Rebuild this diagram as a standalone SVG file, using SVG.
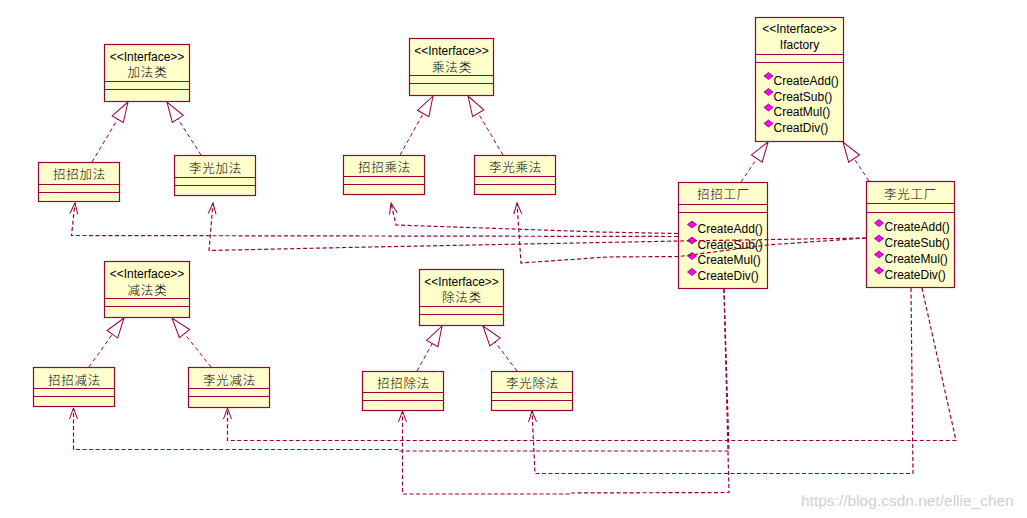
<svg xmlns="http://www.w3.org/2000/svg" width="1027" height="518" viewBox="0 0 1027 518">
<style>
.box{fill:#ffffcc;stroke:#990033;stroke-width:1.2}
.ln{stroke:#990033;stroke-width:1.2}
.t{font-family:"Liberation Sans","Noto Sans CJK SC",sans-serif;font-size:12px;fill:#000}
.cn{font-family:"Noto Sans CJK SC",sans-serif;font-size:12.5px;font-weight:300;letter-spacing:0.8px;fill:#000}
.c{text-anchor:middle}
.gen{fill:none;stroke:#990033;stroke-width:1;stroke-dasharray:4 3;marker-end:url(#tri)}
.dep{fill:none;stroke:#990033;stroke-width:1.2;stroke-dasharray:4 2.5;marker-end:url(#arr)}
.wm{font-family:"Liberation Sans",sans-serif;font-size:15.5px;fill:#cfcfcf}
</style>
<defs>
<marker id="tri" viewBox="0 0 22 16" refX="21" refY="8" markerWidth="22" markerHeight="16" markerUnits="userSpaceOnUse" orient="auto">
<path d="M21,8 L1,1.5 L1,14.5 Z" fill="#ffffff" stroke="#990033" stroke-width="1"/>
</marker>
<marker id="arr" viewBox="0 0 13 10" refX="12" refY="5" markerWidth="13" markerHeight="10" markerUnits="userSpaceOnUse" orient="auto">
<path d="M1,1 L12,5 L1,9" fill="none" stroke="#990033" stroke-width="1"/>
</marker>
<path id="dm" d="M-4.5,0 L0,-3.5 L4.5,0 L0,3.5 Z" fill="#ff00ff" stroke="#800060" stroke-width="0.8"/>
</defs>
<rect width="1027" height="518" fill="#ffffff"/>

<g id="add_iface">
<rect class="box" x="104.5" y="44.5" width="85" height="57"/>
<line class="ln" x1="104.5" y1="81.5" x2="189.5" y2="81.5"/>
<line class="ln" x1="104.5" y1="89.5" x2="189.5" y2="89.5"/>
<text class="t c" x="147" y="61">&lt;&lt;Interface&gt;&gt;</text>
<text class="cn c" x="147.5" y="77">加法类</text>
</g>
<g id="zz_add">
<rect class="box" x="38.5" y="162.5" width="81" height="39"/>
<line class="ln" x1="38.5" y1="184.5" x2="119.5" y2="184.5"/>
<line class="ln" x1="38.5" y1="192.5" x2="119.5" y2="192.5"/>
<text class="cn c" x="79.5" y="179">招招加法</text>
</g>
<g id="lg_add">
<rect class="box" x="174.5" y="155.5" width="81" height="40"/>
<line class="ln" x1="174.5" y1="177.5" x2="255.5" y2="177.5"/>
<line class="ln" x1="174.5" y1="185.5" x2="255.5" y2="185.5"/>
<text class="cn c" x="215.5" y="173">李光加法</text>
</g>
<g id="mul_iface">
<rect class="box" x="409.5" y="38.5" width="84" height="57"/>
<line class="ln" x1="409.5" y1="75.5" x2="493.5" y2="75.5"/>
<line class="ln" x1="409.5" y1="83.5" x2="493.5" y2="83.5"/>
<text class="t c" x="451.5" y="55">&lt;&lt;Interface&gt;&gt;</text>
<text class="cn c" x="452" y="71.5">乘法类</text>
</g>
<g id="zz_mul">
<rect class="box" x="343.5" y="155.5" width="81" height="39"/>
<line class="ln" x1="343.5" y1="176.5" x2="424.5" y2="176.5"/>
<line class="ln" x1="343.5" y1="184.5" x2="424.5" y2="184.5"/>
<text class="cn c" x="384.5" y="171.5">招招乘法</text>
</g>
<g id="lg_mul">
<rect class="box" x="474.5" y="155.5" width="81" height="39"/>
<line class="ln" x1="474.5" y1="176.5" x2="555.5" y2="176.5"/>
<line class="ln" x1="474.5" y1="184.5" x2="555.5" y2="184.5"/>
<text class="cn c" x="515.5" y="171.5">李光乘法</text>
</g>
<g id="ifactory">
<rect class="box" x="755.5" y="17.5" width="88" height="124"/>
<line class="ln" x1="755.5" y1="54.5" x2="843.5" y2="54.5"/>
<line class="ln" x1="755.5" y1="62.5" x2="843.5" y2="62.5"/>
<text class="t c" x="799.5" y="33">&lt;&lt;Interface&gt;&gt;</text>
<text class="t c" x="799.5" y="48.5">Ifactory</text>
<use href="#dm" x="768.5" y="76"/><text class="t" x="773.5" y="84.5">CreateAdd()</text>
<use href="#dm" x="768.5" y="92"/><text class="t" x="773.5" y="100.5">CreatSub()</text>
<use href="#dm" x="768.5" y="107.5"/><text class="t" x="773.5" y="116">CreatMul()</text>
<use href="#dm" x="768.5" y="123.5"/><text class="t" x="773.5" y="132">CreatDiv()</text>
</g>
<g id="zz_factory">
<rect class="box" x="678.5" y="182.5" width="89" height="106"/>
<line class="ln" x1="678.5" y1="204.5" x2="767.5" y2="204.5"/>
<line class="ln" x1="678.5" y1="212.5" x2="767.5" y2="212.5"/>
<text class="cn c" x="723.5" y="199">招招工厂</text>
<use href="#dm" x="692" y="224.5"/><text class="t" x="697.5" y="232.5">CreateAdd()</text>
<use href="#dm" x="692" y="240.5"/><text class="t" x="697.5" y="248.5">CreateSub()</text>
<use href="#dm" x="692" y="256"/><text class="t" x="697.5" y="264">CreateMul()</text>
<use href="#dm" x="692" y="272"/><text class="t" x="697.5" y="280">CreateDiv()</text>
</g>
<g id="lg_factory">
<rect class="box" x="866.5" y="181.5" width="88" height="106"/>
<line class="ln" x1="866.5" y1="203.5" x2="954.5" y2="203.5"/>
<line class="ln" x1="866.5" y1="212.5" x2="954.5" y2="212.5"/>
<text class="cn c" x="910.5" y="198.5">李光工厂</text>
<use href="#dm" x="879" y="223"/><text class="t" x="884.5" y="231">CreateAdd()</text>
<use href="#dm" x="879" y="238.5"/><text class="t" x="884.5" y="246.5">CreateSub()</text>
<use href="#dm" x="879" y="254.5"/><text class="t" x="884.5" y="262.5">CreateMul()</text>
<use href="#dm" x="879" y="270.5"/><text class="t" x="884.5" y="278.5">CreateDiv()</text>
</g>
<g id="sub_iface">
<rect class="box" x="104.5" y="261.5" width="85" height="56"/>
<line class="ln" x1="104.5" y1="298.5" x2="189.5" y2="298.5"/>
<line class="ln" x1="104.5" y1="306.5" x2="189.5" y2="306.5"/>
<text class="t c" x="147" y="278">&lt;&lt;Interface&gt;&gt;</text>
<text class="cn c" x="147.5" y="295">减法类</text>
</g>
<g id="zz_sub">
<rect class="box" x="33.5" y="367.5" width="81" height="39"/>
<line class="ln" x1="33.5" y1="388.5" x2="114.5" y2="388.5"/>
<line class="ln" x1="33.5" y1="396.5" x2="114.5" y2="396.5"/>
<text class="cn c" x="74.5" y="385">招招减法</text>
</g>
<g id="lg_sub">
<rect class="box" x="188.5" y="367.5" width="81" height="40"/>
<line class="ln" x1="188.5" y1="388.5" x2="269.5" y2="388.5"/>
<line class="ln" x1="188.5" y1="396.5" x2="269.5" y2="396.5"/>
<text class="cn c" x="229.5" y="385">李光减法</text>
</g>
<g id="div_iface">
<rect class="box" x="419.5" y="269.5" width="84" height="56"/>
<line class="ln" x1="419.5" y1="306.5" x2="503.5" y2="306.5"/>
<line class="ln" x1="419.5" y1="314.5" x2="503.5" y2="314.5"/>
<text class="t c" x="461.5" y="286">&lt;&lt;Interface&gt;&gt;</text>
<text class="cn c" x="462" y="302">除法类</text>
</g>
<g id="zz_div">
<rect class="box" x="362.5" y="371.5" width="81" height="39"/>
<line class="ln" x1="362.5" y1="392.5" x2="443.5" y2="392.5"/>
<line class="ln" x1="362.5" y1="400.5" x2="443.5" y2="400.5"/>
<text class="cn c" x="403.5" y="387.5">招招除法</text>
</g>
<g id="lg_div">
<rect class="box" x="491.5" y="371.5" width="81" height="39"/>
<line class="ln" x1="491.5" y1="392.5" x2="572.5" y2="392.5"/>
<line class="ln" x1="491.5" y1="400.5" x2="572.5" y2="400.5"/>
<text class="cn c" x="532.5" y="387.5">李光除法</text>
</g>

<g id="connectors">
<path class="gen" d="M92,162 L128,102"/>
<path class="gen" d="M201,155 L167,102"/>
<path class="gen" d="M400,155 L433,96"/>
<path class="gen" d="M503,155 L468,96"/>
<path class="gen" d="M741,182 L768,142"/>
<path class="gen" d="M869,181 L843,142"/>
<path class="gen" d="M89,367 L124,318"/>
<path class="gen" d="M211,367 L172,318"/>
<path class="gen" d="M417,371 L442,326"/>
<path class="gen" d="M517,371 L483,326"/>

<path class="dep" d="M678,236.5 L71.5,235.5 L75,203"/>
<path class="dep" d="M678,233.5 L600,232 L396,225 L391,203"/>
<path class="dep" d="M866,238 L679,241 L370,247 L209,250.5 L213,203"/>
<path class="dep" d="M866,238 L767,245 L679,256.5 L607,257 L521,263 L517,203"/>
<path class="dep" d="M724,289 L729,451 L400,451 L400,449.5 L73.5,449.5 L73.5,408"/>
<path class="dep" d="M724,289 L729,492.5 L569,493 L569,494 L402.5,494 L402.5,411"/>
<path class="dep" d="M922,288 L956,440.5 L227.5,440.5 L227.5,408"/>
<path class="dep" d="M911,288 L913,473.5 L535,473.5 L532,411"/>
</g>

<text class="wm" x="801" y="506">https://blog.csdn.net/ellie_chen</text>
</svg>
